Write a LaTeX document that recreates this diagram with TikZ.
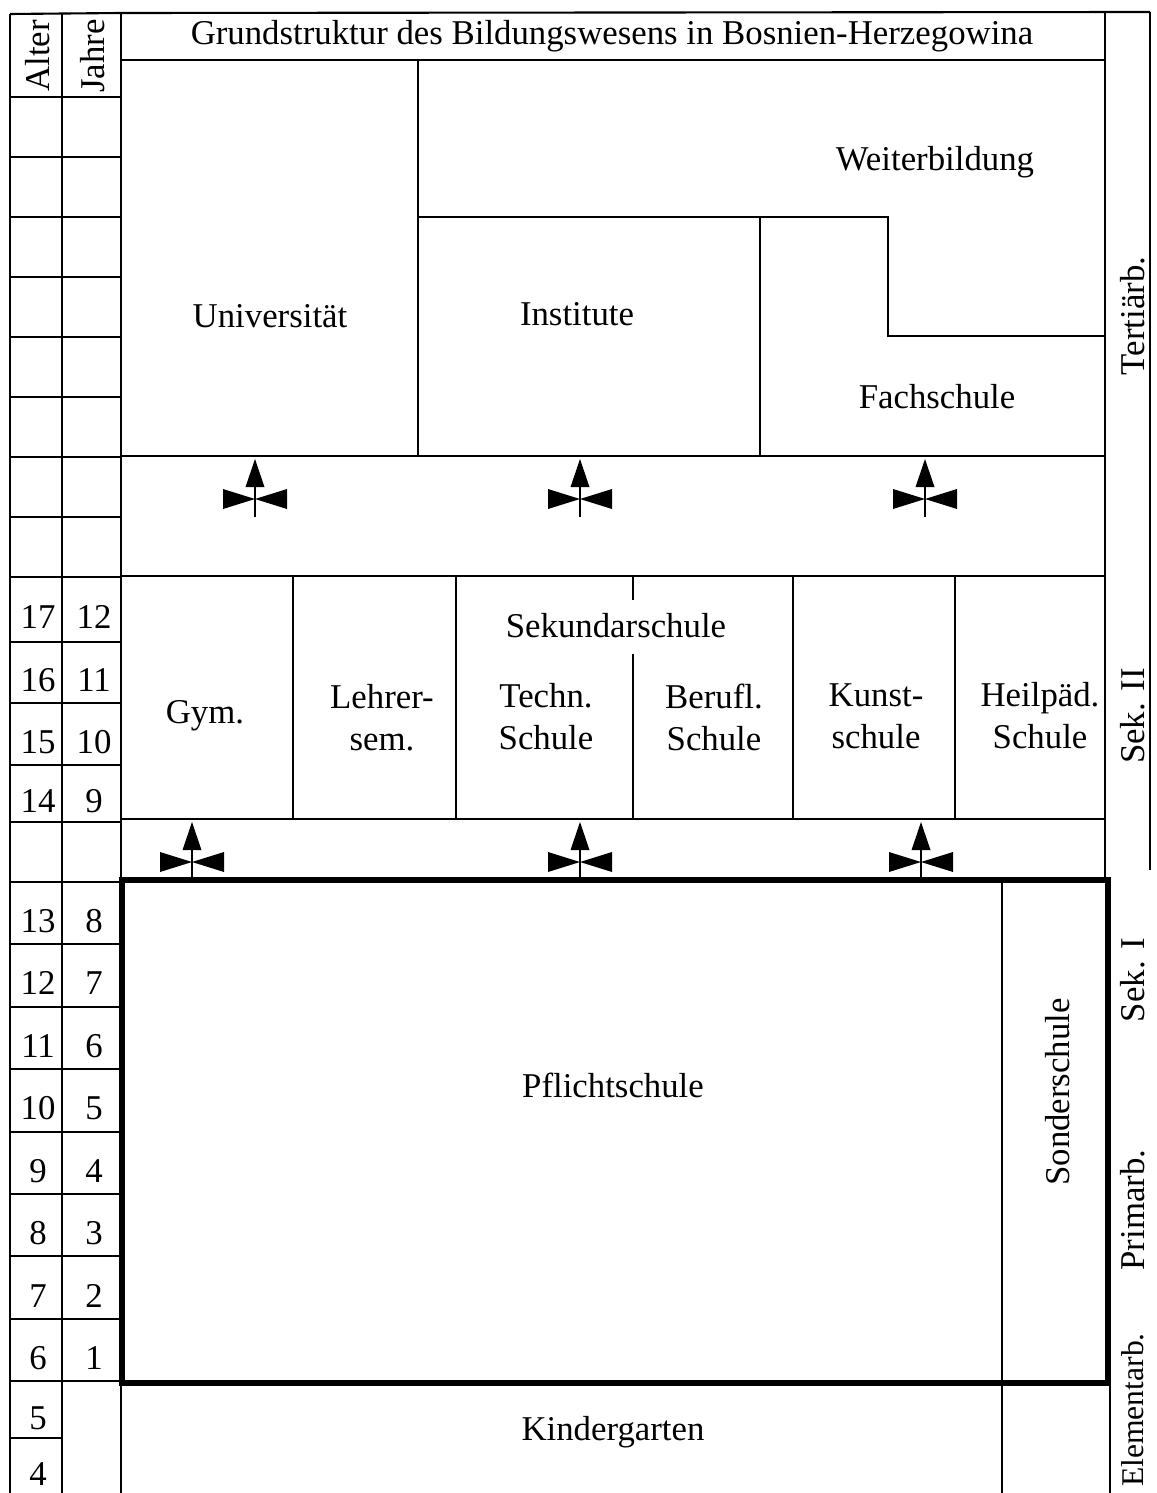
\documentclass[tikz,border=0pt]{standalone}
\usepackage{fontspec}
\setmainfont{Liberation Serif}
\begin{document}
\begin{tikzpicture}[x=0.02cm, y=-0.02cm, line width=1.2pt,
    every node/.style={font=\fontsize{19.8}{24}\selectfont, align=center},
    side/.style={rotate=90},
    frame/.style={line width=3.8pt, line join=miter},
    valve/.pic={
      \fill (0,0) -- (-9.5,28) -- (9.5,28) -- cycle;
      \draw (0,28) -- (0,58);
      \fill (-32,30) -- (-32,50) -- (0,40) -- cycle;
      \fill (32,30) -- (32,50) -- (0,40) -- cycle;
    }]
  \useasboundingbox (0,0) rectangle (1156,1493);

  \draw (10,14) -- (10,1493) (62,14) -- (62,1493)
        (121,13) -- (121,880) (121,1383) -- (121,1493);
  \draw (10,14) -- (121,13) -- (1150,12);
  \foreach \y in {97,157,...,577,642,703,765,822,882,944,1007,1069,1132,1194,1256,1319,1381}
    \draw (10,\y) -- (121,\y);
  \draw (10,1438) -- (62,1438);

  \draw (121,60) -- (1105,60) (121,456) -- (1105,456)
        (121,576) -- (1105,576) (121,819) -- (1105,819);
  \draw (1105,12) -- (1105,880) (1110,1383) -- (1110,1493) (1150,12) -- (1150,870);
  \draw (418,60) -- (418,456) (760,217) -- (760,456)
        (418,217) -- (888,217) -- (888,336) -- (1105,336);
  \draw (293,576) -- (293,819) (456,576) -- (456,819) (793,576) -- (793,819)
        (955,576) -- (955,819) (633,576) -- (633,600) (633,654) -- (633,819);
  \draw (1002,880) -- (1002,1493);
  \draw[frame] (122,880) rectangle (1108,1383);

  \node[side] (alter) at (38,56) {Alter};
  \node[side] (jahre) at (93,56) {Jahre};
  \foreach \a/\j/\y in {17/12/617, 16/11/680, 15/10/742, 14/9/801, 13/8/921, 12/7/983,
      11/6/1046, 10/5/1108, 9/4/1171, 8/3/1233, 7/2/1296, 6/1/1358} {
    \node (a\a) at (38,\y) {\a};
    \node (j\j) at (94,\y) {\j};
  }
  \node (a5) at (38,1418) {5};
  \node (a4) at (38,1474) {4};

  \node (titel) at (612,36) {Grundstruktur des Bildungswesens in Bosnien-Herzegowina};
  \node (uni) at (270,316) {Universität};
  \node (weiter) at (935,162) {Weiterbildung};
  \node (inst) at (577,314) {Institute};
  \node (fach) at (937,397) {Fachschule};
  \node (sek) at (616,626) {Sekundarschule};
  \node (gym) at (205,716) {Gym.};
  \node (lehrer) at (382,718) {Lehrer-\\sem.};
  \node (techn) at (546,717) {Techn.\\Schule};
  \node (berufl) at (714,717) {Berufl.\\Schule};
  \node (kunst) at (876,716) {Kunst-\\schule};
  \node (heil) at (1040,716) {Heilpäd.\\Schule};
  \node (pflicht) at (613,1085) {Pflichtschule};
  \node[side] (sonder) at (1058,1092) {Sonderschule};
  \node (kinder) at (613,1432) {Kindergarten};

  \node[side] (tert) at (1133,316) {Tertiärb.};
  \node[side] (sekii) at (1133,716) {Sek. II};
  \node[side] (seki) at (1133,980) {Sek. I};
  \node[side] (prim) at (1133,1210) {Primarb.};
  \node[side, font=\fontsize{18}{22}\selectfont] (elem) at (1133,1410) {Elementarb.};

  \pic at (255,459) {valve};
  \pic at (580,459) {valve};
  \pic at (925,459) {valve};
  \pic at (192,822) {valve};
  \pic at (580,822) {valve};
  \pic at (921,822) {valve};
\end{tikzpicture}
\end{document}
